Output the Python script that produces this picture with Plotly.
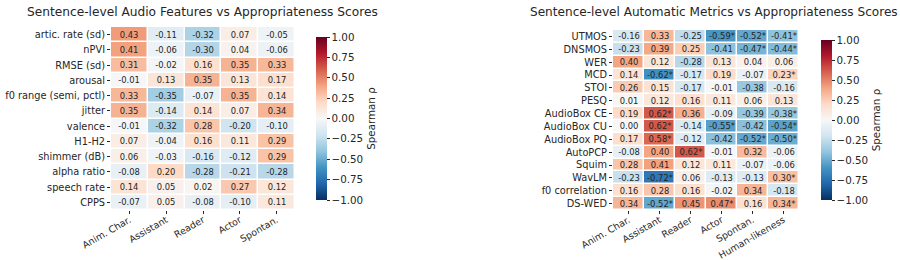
import plotly.graph_objects as go

# ---------------- data ----------------
left_rows = ["artic. rate (sd)", "nPVI", "RMSE (sd)", "arousal", "f0 range (semi, pctl)",
             "jitter", "valence", "H1-H2", "shimmer (dB)", "alpha ratio", "speech rate", "CPPS"]
left_cols = ["Anim. Char.", "Assistant", "Reader", "Actor", "Spontan."]
left_vals = [
    [0.43, -0.11, -0.32, 0.07, -0.05],
    [0.41, -0.06, -0.30, 0.04, -0.06],
    [0.31, -0.02, 0.16, 0.35, 0.33],
    [-0.01, 0.13, 0.35, 0.13, 0.17],
    [0.33, -0.35, -0.07, 0.35, 0.14],
    [0.35, -0.14, 0.14, 0.07, 0.34],
    [-0.01, -0.32, 0.28, -0.20, -0.10],
    [0.07, -0.04, 0.16, 0.11, 0.29],
    [0.06, -0.03, -0.16, -0.12, 0.29],
    [-0.08, 0.20, -0.28, -0.21, -0.28],
    [0.14, 0.05, 0.02, 0.27, 0.12],
    [-0.07, 0.05, -0.08, -0.10, 0.11],
]

right_rows = ["UTMOS", "DNSMOS", "WER", "MCD", "STOI", "PESQ", "AudioBox CE", "AudioBox CU",
              "AudioBox PQ", "AutoPCP", "Squim", "WavLM", "f0 correlation", "DS-WED"]
right_cols = ["Anim. Char.", "Assistant", "Reader", "Actor", "Spontan.", "Human-likeness"]
right_vals = [
    [-0.16, 0.33, -0.25, -0.59, -0.52, -0.41],
    [-0.23, 0.39, 0.25, -0.41, -0.47, -0.44],
    [0.40, 0.12, -0.28, 0.13, 0.04, 0.06],
    [0.14, -0.62, -0.17, 0.19, -0.07, 0.23],
    [0.26, 0.15, -0.17, -0.01, -0.38, -0.16],
    [0.01, 0.12, 0.16, 0.11, 0.06, 0.13],
    [0.19, 0.62, 0.36, -0.09, -0.39, -0.38],
    [0.00, 0.62, -0.14, -0.55, -0.42, -0.54],
    [0.17, 0.58, -0.12, -0.42, -0.52, -0.50],
    [-0.08, 0.40, 0.62, -0.01, 0.32, -0.06],
    [0.28, 0.41, 0.12, 0.11, -0.07, -0.06],
    [-0.23, -0.72, 0.06, -0.13, -0.13, 0.30],
    [0.16, 0.28, 0.16, -0.02, 0.34, -0.18],
    [0.34, -0.52, 0.45, 0.47, 0.16, 0.34],
]
right_sig = [
    [0, 0, 0, 1, 1, 1],
    [0, 0, 0, 0, 1, 1],
    [0, 0, 0, 0, 0, 0],
    [0, 1, 0, 0, 0, 1],
    [0, 0, 0, 0, 0, 0],
    [0, 0, 0, 0, 0, 0],
    [0, 1, 0, 0, 0, 1],
    [0, 1, 0, 1, 0, 1],
    [0, 1, 0, 0, 1, 1],
    [0, 0, 1, 0, 0, 0],
    [0, 0, 0, 0, 0, 0],
    [0, 1, 0, 0, 0, 1],
    [0, 0, 0, 0, 0, 0],
    [0, 1, 0, 1, 0, 1],
]

cbar_vals = [1.0, 0.75, 0.5, 0.25, 0.0, -0.25, -0.5, -0.75, -1.0]
cbar_text = ["1.00", "0.75", "0.50", "0.25", "0.00", "\u22120.25", "\u22120.50", "\u22120.75", "\u22121.00"]

# ---------------- style ----------------
rdbu_r = ["#053061", "#2166ac", "#4393c3", "#92c5de", "#d1e5f0", "#f7f7f7",
          "#fddbc7", "#f4a582", "#d6604d", "#b2182b", "#67001f"]
cscale = [[i / 10, c] for i, c in enumerate(rdbu_r)]
FONT = "DejaVu Sans"
TXT = "#262626"
W, H = 900, 260


def fmt(v):
    return f"{v:.2f}"


left_text = [[fmt(v) for v in row] for row in left_vals]
right_text = [[fmt(v) + ("*" if s else "") for v, s in zip(row, srow)]
              for row, srow in zip(right_vals, right_sig)]

fig = go.Figure()


def px_x(x):
    return x / W


def px_y(y):
    return 1 - y / H


L = dict(x0=111, x1=295, y0=27, y1=210)
R = dict(x0=613, x1=799, y0=30, y1=210)


def cbar(xpix, g):
    return dict(
        x=px_x(xpix), xanchor="left", xref="paper",
        y=px_y((g["y0"] + g["y1"]) / 2), yanchor="middle", yref="paper",
        len=g["y1"] - g["y0"], lenmode="pixels",
        thickness=11, thicknessmode="pixels",
        outlinewidth=0, ticks="outside", ticklen=3, tickcolor=TXT,
        tickvals=cbar_vals, ticktext=cbar_text,
        tickfont=dict(family=FONT, size=10.3, color=TXT),
        title=dict(text="Spearman \u03c1", side="right",
                   font=dict(family=FONT, size=10.3, color=TXT)),
    )


fig.add_trace(go.Heatmap(
    z=left_vals, x=left_cols, y=left_rows, text=left_text, texttemplate="%{text}",
    textfont=dict(family=FONT, size=8.4, color=TXT),
    colorscale=cscale, zmin=-1, zmax=1, xgap=1.5, ygap=1.5,
    colorbar=cbar(306, L), xaxis="x", yaxis="y", hoverinfo="skip",
))
fig.add_trace(go.Heatmap(
    z=right_vals, x=right_cols, y=right_rows, text=right_text, texttemplate="%{text}",
    textfont=dict(family=FONT, size=8.4, color=TXT),
    colorscale=cscale, zmin=-1, zmax=1, xgap=1.5, ygap=1.5,
    colorbar=cbar(811, R), xaxis="x2", yaxis="y2", hoverinfo="skip",
))

axfont = dict(family=FONT, size=9.8, color=TXT)
common_x = dict(tickangle=-30, ticks="outside", ticklen=3, tickcolor=TXT, automargin=False,
                ticklabelstandoff=-3,
                tickfont=dict(family=FONT, size=9.4, color=TXT),
                showgrid=False, zeroline=False, showline=False)
common_y = dict(autorange="reversed", ticks="outside", ticklen=3, tickcolor=TXT, automargin=False,
                tickfont=axfont, showgrid=False, zeroline=False, showline=False)

fig.update_layout(
    width=W, height=H, margin=dict(l=0, r=0, t=0, b=0),
    paper_bgcolor="white", plot_bgcolor="white",
    font=dict(family=FONT, color=TXT),
    xaxis=dict(domain=[px_x(L["x0"]), px_x(L["x1"])], anchor="y",
               tickmode="array", tickvals=left_cols, ticktext=left_cols, **common_x),
    yaxis=dict(domain=[px_y(L["y1"]), px_y(L["y0"])], anchor="x",
               tickmode="array", tickvals=left_rows, ticktext=left_rows, **common_y),
    xaxis2=dict(domain=[px_x(R["x0"]), px_x(R["x1"])], anchor="y2",
                tickmode="array", tickvals=right_cols, ticktext=right_cols, **common_x),
    yaxis2=dict(domain=[px_y(R["y1"]), px_y(R["y0"])], anchor="x2",
                tickmode="array", tickvals=right_rows, ticktext=right_rows, **common_y),
    annotations=[
        dict(text="Sentence-level Audio Features vs Appropriateness Scores",
             x=px_x(202), y=px_y(12), xref="paper", yref="paper",
             xanchor="center", yanchor="middle", showarrow=False,
             font=dict(family=FONT, size=12.2, color=TXT)),
        dict(text="Sentence-level Automatic Metrics vs Appropriateness Scores",
             x=px_x(714), y=px_y(12), xref="paper", yref="paper",
             xanchor="center", yanchor="middle", showarrow=False,
             font=dict(family=FONT, size=12.1, color=TXT)),
    ],
)

fig.write_html("out.html")
